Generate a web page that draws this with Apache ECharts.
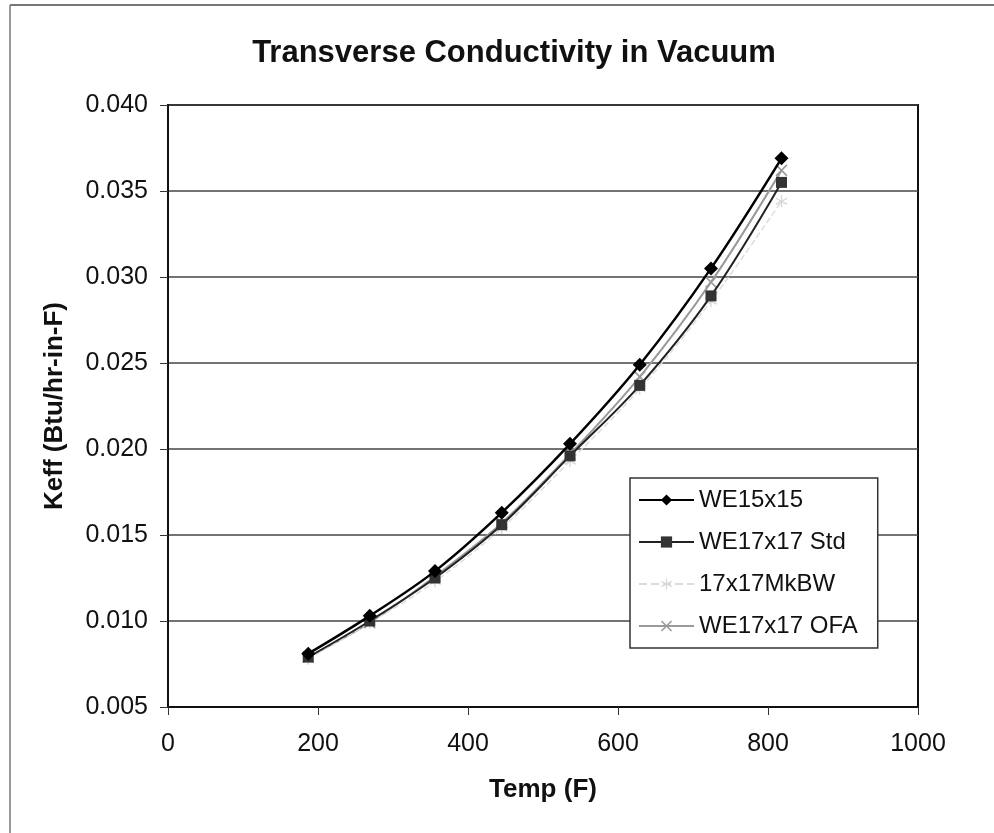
<!DOCTYPE html>
<html>
<head>
<meta charset="utf-8">
<script src="https://cdn.jsdelivr.net/npm/echarts@6/dist/echarts.min.js"></script>
<style>html,body{margin:0;padding:0;background:#fff}#c{width:994px;height:833px}</style>
</head>
<body>
<div id="c"></div>
<script>
var temps = [187, 269, 356, 445, 536, 629, 724, 818];
var we15x15 = [0.0081, 0.0103, 0.0129, 0.0163, 0.0203, 0.0249, 0.0305, 0.0369];
var we17Std = [0.0079, 0.0100, 0.0125, 0.0156, 0.0196, 0.0237, 0.0289, 0.0355];
var mkbw17 = [0.0078, 0.0099, 0.0123, 0.0154, 0.0193, 0.0235, 0.0286, 0.0344];
var we17Ofa = [0.0079, 0.0099, 0.0126, 0.0157, 0.0197, 0.0242, 0.0297, 0.0362];
var seriesNames = ['WE15x15', 'WE17x17 Std', '17x17MkBW', 'WE17x17 OFA'];

function pairs(v) { return temps.map(function (t, i) { return [t, v[i]]; }); }

var FONT = 'Liberation Sans, Arial, sans-serif';
var xSym = 'path://M0,1 L1,0 L5,4 L9,0 L10,1 L6,5 L10,9 L9,10 L5,6 L1,10 L0,9 L4,5 Z';
var starSym = 'path://M4.5,0h1v4.1l3.6,-2.1 0.5,0.9 -3.6,2.1 3.6,2.1 -0.5,0.9 -3.6,-2.1v4.1h-1v-4.1l-3.6,2.1 -0.5,-0.9 3.6,-2.1 -3.6,-2.1 0.5,-0.9 3.6,2.1z';

var chart = echarts.init(document.getElementById('c'));
chart.setOption({
  backgroundColor: '#fff',
  animation: false,
  title: {
    text: 'Transverse Conductivity in Vacuum',
    left: 509, top: 33, textAlign: 'center',
    textStyle: { fontFamily: FONT, fontSize: 31, fontWeight: 'bold', color: '#111' }
  },
  graphic: [
    { type: 'line', shape: { x1: 10, y1: 5, x2: 994, y2: 5 }, style: { stroke: '#777', lineWidth: 2 } },
    { type: 'line', shape: { x1: 10, y1: 5, x2: 10, y2: 833 }, style: { stroke: '#777', lineWidth: 1.5 } }
  ],
  grid: { left: 168, right: 76, top: 105, bottom: 126, show: true, borderColor: '#111', borderWidth: 2, backgroundColor: 'transparent' },
  legend: {
    orient: 'vertical', left: 630, top: 478,
    data: seriesNames,
    itemWidth: 55, itemHeight: 14, itemGap: 18,
    padding: [10, 20, 10, 8],
    backgroundColor: '#fff', borderColor: '#333', borderWidth: 1.5,
    textStyle: { fontFamily: FONT, fontSize: 24, color: '#111' }
  },
  xAxis: {
    type: 'value', min: 0, max: 1000, interval: 200,
    name: 'Temp (F)', nameLocation: 'middle', nameGap: 70,
    nameTextStyle: { fontFamily: FONT, fontSize: 26, fontWeight: 'bold', color: '#111' },
    axisLine: { show: true, lineStyle: { color: '#111', width: 2 } },
    axisTick: { show: true, length: 8, inside: false, lineStyle: { color: '#333' } },
    axisLabel: { fontFamily: FONT, fontSize: 25, color: '#111', margin: 25, formatter: function (v) { return String(v); } },
    splitLine: { show: false }
  },
  yAxis: {
    type: 'value', min: 0.005, max: 0.040, interval: 0.005,
    name: 'Keff (Btu/hr-in-F)', nameLocation: 'middle', nameGap: 100,
    nameTextStyle: { fontFamily: FONT, fontSize: 26, fontWeight: 'bold', color: '#111' },
    axisLine: { show: true, lineStyle: { color: '#111', width: 2 } },
    axisTick: { show: true, length: 8, inside: false, lineStyle: { color: '#333' } },
    axisLabel: { fontFamily: FONT, fontSize: 25, color: '#111', margin: 20, formatter: function (v) { return v.toFixed(3); } },
    splitLine: { show: true, lineStyle: { color: '#444', width: 1.5 } }
  },
  series: [
    { name: seriesNames[3], type: 'line', smooth: 0.35, data: pairs(we17Ofa), symbol: xSym, symbolSize: 12,
      lineStyle: { color: '#9a9a9a', width: 2 }, itemStyle: { color: '#9a9a9a' }, z: 2 },
    { name: seriesNames[2], type: 'line', smooth: 0.35, data: pairs(mkbw17), symbol: starSym, symbolSize: 12,
      lineStyle: { color: '#dcdcdc', width: 1.5, type: 'dashed' }, itemStyle: { color: '#d6d6d6' }, z: 3 },
    { name: seriesNames[1], type: 'line', smooth: 0.35, data: pairs(we17Std), symbol: 'rect', symbolSize: 11,
      lineStyle: { color: '#222', width: 2 }, itemStyle: { color: '#333' }, z: 4 },
    { name: seriesNames[0], type: 'line', smooth: 0.35, data: pairs(we15x15), symbol: 'diamond', symbolSize: 14,
      lineStyle: { color: '#000', width: 2.5 }, itemStyle: { color: '#000' }, z: 5 }
  ]
});
</script>
</body>
</html>
